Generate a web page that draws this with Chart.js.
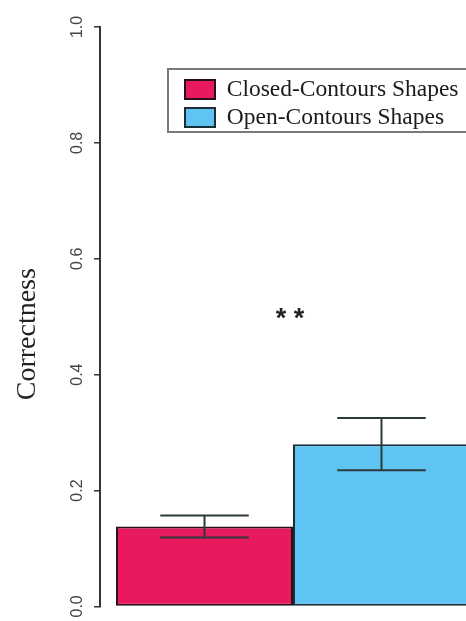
<!DOCTYPE html>
<html>
<head>
<meta charset="utf-8">
<script src="https://cdn.jsdelivr.net/npm/chart.js@4/dist/chart.umd.min.js"></script>
<style>
  html, body { margin: 0; padding: 0; background: #fff; overflow: hidden; }
  #wrap { width: 466px; height: 621px; overflow: hidden; position: relative; }
  canvas { display: block; }
</style>
</head>
<body>
<div id="wrap"><canvas id="chart" width="490" height="621"></canvas></div>
<script>
// Mean correctness per contour condition, with standard error
const groups = ['Contour type'];
const seriesNames = ['Closed-Contours Shapes', 'Open-Contours Shapes'];
const closedMean = [0.138];
const openMean = [0.280];
const closedErr = [0.019];
const openErr = [0.045];
const yTicks = [0.0, 0.2, 0.4, 0.6, 0.8, 1.0];
const sigLabel = ['*', '*'];
const sigLevel = 0.5;

const closedColor = '#E9195D';
const openColor = '#5EC5F2';

// Vertical error bars with caps, drawn from each bar's mean +/- error
const errorBars = {
  id: 'errorBars',
  afterDatasetsDraw(chart) {
    const y = chart.scales.y;
    const ctx = chart.ctx;
    ctx.save();
    ctx.strokeStyle = '#2c3a3c';
    ctx.lineWidth = 2;
    chart.data.datasets.forEach((ds, di) => {
      const meta = chart.getDatasetMeta(di);
      meta.data.forEach((bar, i) => {
        const m = ds.data[i];
        const e = ds.errors[i];
        const hi = y.getPixelForValue(m + e);
        const lo = y.getPixelForValue(m - e);
        const half = bar.width / 4;
        ctx.beginPath();
        ctx.moveTo(bar.x, hi); ctx.lineTo(bar.x, lo);
        ctx.moveTo(bar.x - half, hi); ctx.lineTo(bar.x + half, hi);
        ctx.moveTo(bar.x - half, lo); ctx.lineTo(bar.x + half, lo);
        ctx.stroke();
      });
    });
    ctx.restore();
  }
};

// Significance marker between the two bars
const significance = {
  id: 'significance',
  afterDatasetsDraw(chart) {
    const y = chart.scales.y;
    const a = chart.getDatasetMeta(0).data[0];
    const b = chart.getDatasetMeta(1).data[0];
    const cx = (a.x + b.x) / 2 - 3;
    const cy = y.getPixelForValue(sigLevel);
    const ctx = chart.ctx;
    ctx.save();
    ctx.fillStyle = '#222';
    ctx.font = 'bold 27px "Liberation Sans"';
    ctx.textAlign = 'center';
    ctx.textBaseline = 'middle';
    sigLabel.forEach((s, i) => {
      ctx.fillText(s, cx + (i - (sigLabel.length - 1) / 2) * 18, cy + 3);
    });
    ctx.restore();
  }
};

// Place the legend inside the plot and frame it
const legendPlacement = {
  id: 'legendPlacement',
  afterLayout(chart) {
    const lg = chart.legend;
    const w = lg.width, h = lg.height;
    lg.left = 180.5; lg.top = 73.25;
    lg.right = lg.left + w; lg.bottom = lg.top + h;
  },
  beforeDraw(chart) {
    const lg = chart.legend;
    const ctx = chart.ctx;
    ctx.save();
    ctx.fillStyle = '#fff';
    ctx.strokeStyle = '#7a7a7a';
    ctx.lineWidth = 2;
    ctx.beginPath();
    ctx.rect(lg.left - 12.5, lg.top - 4.25, 330, 63);
    ctx.fill();
    ctx.stroke();
    ctx.restore();
  }
};

new Chart(document.getElementById('chart'), {
  type: 'bar',
  data: {
    labels: groups,
    datasets: [
      {
        label: seriesNames[0],
        data: closedMean,
        errors: closedErr,
        backgroundColor: closedColor,
        borderColor: '#2a0f18',
        borderWidth: 2,
        borderSkipped: false
      },
      {
        label: seriesNames[1],
        data: openMean,
        errors: openErr,
        backgroundColor: openColor,
        borderColor: '#1c2e3a',
        borderWidth: 2,
        borderSkipped: false
      }
    ]
  },
  options: {
    responsive: false,
    animation: false,
    events: [],
    layout: { padding: { top: 27, bottom: 14, left: 0, right: 4 } },
    datasets: { bar: { categoryPercentage: 0.917, barPercentage: 1.0 } },
    scales: {
      x: { display: false },
      y: {
        min: 0,
        max: 1,
        afterBuildTicks: (s) => { s.ticks = yTicks.map(v => ({ value: v })); },
        afterFit: (s) => { s.width = 100; },
        border: { display: true, color: '#333', width: 2 },
        grid: { display: true, drawOnChartArea: false, drawTicks: true, tickLength: 6, color: '#333', lineWidth: 1.5 },
        ticks: {
          minRotation: 90,
          maxRotation: 90,
          crossAlign: 'center',
          padding: 5,
          color: '#444',
          font: { family: 'Liberation Sans', size: 16 },
          callback: (v) => Number(v).toFixed(1)
        },
        title: {
          display: true,
          // trailing no-break spaces lower the title a little along the axis
          text: 'Correctness' + '\u00a0'.repeat(5),
          color: '#222',
          font: { family: 'Liberation Serif', size: 28 },
          padding: { top: 11, bottom: 0 }
        }
      }
    },
    plugins: {
      tooltip: { enabled: false },
      legend: {
        position: 'chartArea',
        align: 'start',
        labels: {
          boxWidth: 30,
          boxHeight: 19,
          padding: 4.5,
          color: '#1a1a1a',
          font: { family: 'Liberation Serif', size: 23.5 }
        }
      }
    }
  },
  plugins: [legendPlacement, errorBars, significance]
});
</script>
</body>
</html>
